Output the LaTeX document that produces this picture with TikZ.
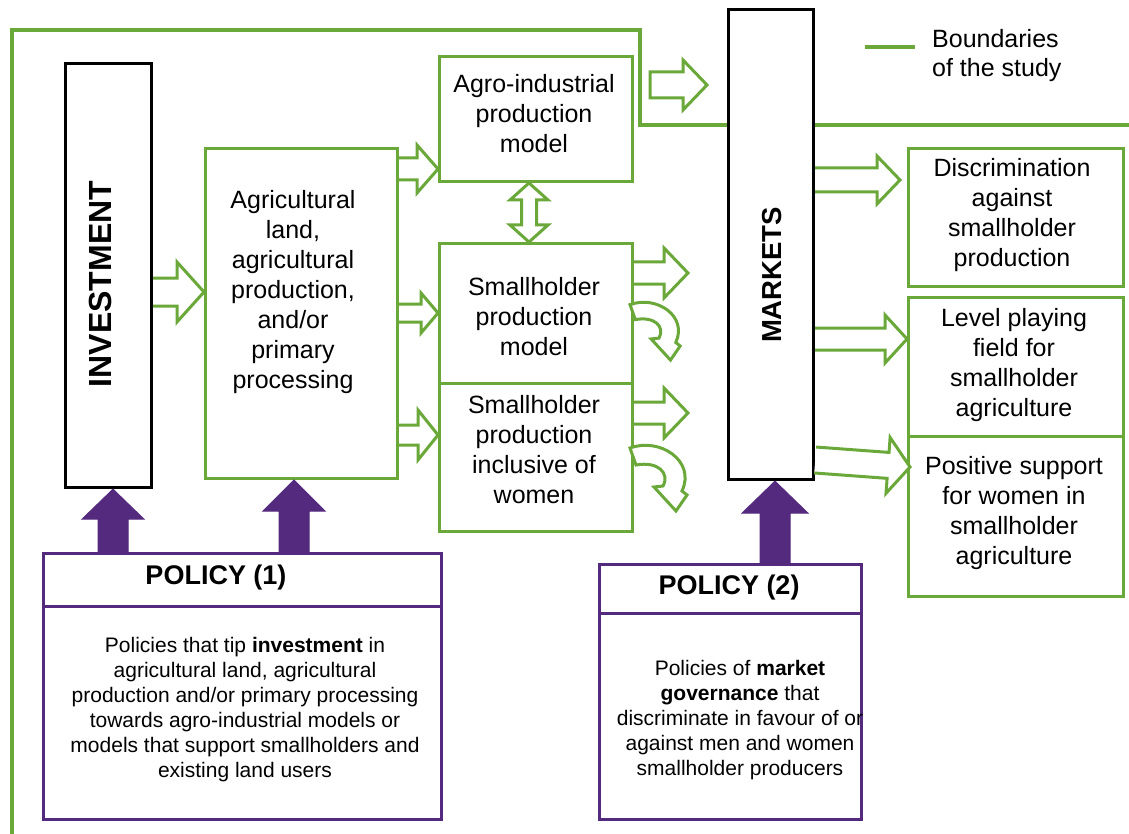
\documentclass[tikz,border=0pt]{standalone}
\usepackage{fontspec}
\setmainfont{Liberation Sans}
\usetikzlibrary{calc}
\definecolor{grn}{RGB}{106,168,58}
\definecolor{prp}{RGB}{84,42,126}
\newcommand\blockarr[7]{%
  \coordinate (hb) at ($#3!#6!#2$);
  \draw[#1] ($#2!#4!90:#3$) -- ($(hb)!#4!90:#3$) -- ($(hb)!#5!90:#3$) -- #3 -- ($(hb)!#5!-90:#3$) -- ($(hb)!#4!-90:#3$) -- ($#2!#4!-90:#3$) #7;
}
\newcommand\dblarr[6]{%
  \coordinate (hbA) at ($#2!#6!#3$);
  \coordinate (hbB) at ($#3!#6!#2$);
  \draw[#1] #2 -- ($(hbA)!#5!90:#3$) -- ($(hbA)!#4!90:#3$) -- ($(hbB)!#4!90:#3$) -- ($(hbB)!#5!90:#3$) -- #3 -- ($(hbB)!#5!-90:#3$) -- ($(hbB)!#4!-90:#3$) -- ($(hbA)!#4!-90:#3$) -- ($(hbA)!#5!-90:#3$) -- cycle;
}
\newcommand\curvarr[2]{%
  \begin{scope}[shift={#1}, scale=#2]
    \draw[garr] (0,3) .. controls (30,-8) and (66,16) .. (52,46) -- (57,50) -- (46,66) -- (24,42) -- (33,41) .. controls (40,28) and (28,16) .. (6,20) -- cycle;
  \end{scope}
}
\begin{document}
\begin{tikzpicture}[x=1pt,y=-1pt,
  gbox/.style={draw=grn, line width=3pt, fill=white, inner sep=0pt, anchor=north west},
  kbox/.style={draw=black, line width=3.2pt, fill=white, inner sep=0pt, anchor=north west},
  pbox/.style={draw=prp, line width=3pt, fill=white, inner sep=0pt, anchor=north west},
  txt/.style={font=\fontsize{25}{30}\selectfont, align=center, inner sep=0pt},
  ptxt/.style={font=\fontsize{21}{25}\selectfont, align=center, inner sep=0pt},
  ttl/.style={font=\fontsize{27}{32}\selectfont\bfseries, inner sep=0pt},
  garr/.style={draw=grn, line width=3pt, fill=white, line join=miter},
  parr/.style={draw=prp, fill=prp, line width=1pt},
  bnd/.style={draw=grn, line width=4pt, line join=miter}]
\useasboundingbox (0,0) rectangle (1129,834);
% boundaries of the study
\draw[bnd] (12,834) -- (12,30) -- (640,30) -- (640,125) -- (1129,125);
\coordinate (lg1) at (865,47);
\coordinate (lg2) at (915,47);
\draw[bnd] (lg1) -- (lg2);
\node[anchor=west, align=left, font=\fontsize{25}{29}\selectfont, inner sep=0pt] (lgt) at (932,56) {Boundaries\\of the study};
% boxes
\node[kbox, minimum width=86pt, minimum height=424pt] (inv) at (64,62) {};
\node[rotate=90, font=\fontsize{32}{36}\selectfont\bfseries, inner sep=0pt] (invt) at (100,284) {INVESTMENT};
\node[gbox, minimum width=192pt, minimum height=330pt] (agr) at (204,147) {};
\node[txt] (agrt) at (293,292) {Agricultural\\land,\\agricultural\\production,\\and/or\\primary\\processing};
\node[gbox, minimum width=193pt, minimum height=125pt] (agro) at (438,55) {};
\node[txt] (agrot) at (534,114) {Agro-industrial\\production\\model};
\node[gbox, minimum width=193pt, minimum height=140pt] (sm) at (438,242) {};
\node[txt] (smt) at (534,317) {Smallholder\\production\\model};
\node[gbox, minimum width=193pt, minimum height=148pt] (wm) at (438,382) {};
\node[txt] (wmt) at (534,450) {Smallholder\\production\\inclusive of\\women};
\node[kbox, minimum width=85pt, minimum height=470pt] (mkt) at (727,8) {};
\node[rotate=90, font=\fontsize{27.5}{32}\selectfont\bfseries, inner sep=0pt] (mktt) at (772,275) {MARKETS};
\node[gbox, minimum width=215pt, minimum height=138pt] (disc) at (907,147) {};
\node[txt] (disct) at (1012,215) {Discrimination\\against\\smallholder\\production};
\node[gbox, minimum width=215pt, minimum height=139pt] (lvl) at (907,296) {};
\node[txt] (lvlt) at (1014,365) {Level playing\\field for\\smallholder\\agriculture};
\node[gbox, minimum width=215pt, minimum height=160pt] (pos) at (907,435) {};
\node[txt] (post) at (1014,513) {Positive support\\for women in\\smallholder\\agriculture};
% policy boxes
\node[pbox, minimum width=398pt, minimum height=53pt] (p1h) at (42,552) {};
\node[pbox, minimum width=398pt, minimum height=213pt] (p1b) at (42,605) {};
\node[ttl] (p1t) at (216,578) {POLICY (1)};
\node[ptxt] (p1x) at (245,710) {Policies that tip \textbf{investment} in\\agricultural land, agricultural\\production and/or primary processing\\towards agro-industrial models or\\models that support smallholders and\\existing land users};
\node[pbox, minimum width=262pt, minimum height=49pt] (p2h) at (598,563) {};
\node[pbox, minimum width=262pt, minimum height=206pt] (p2b) at (598,612) {};
\node[ttl] (p2t) at (729,588) {POLICY (2)};
\node[ptxt] (p2x) at (740,720) {Policies of \textbf{market}\\\textbf{governance} that\\discriminate in favour of or\\against men and women\\smallholder producers};
% green block arrows
\coordinate (a1s) at (inv.east |- 0,292);
\coordinate (a1e) at (agr.west |- 0,292);
\blockarr{garr}{(a1s)}{(a1e)}{14pt}{30pt}{27pt}{}
\coordinate (a2s) at (agr.east |- 0,169);
\coordinate (a2e) at (agro.west |- 0,169);
\blockarr{garr}{(a2s)}{(a2e)}{11pt}{24pt}{21pt}{}
\coordinate (a3s) at (agr.east |- 0,313);
\coordinate (a3e) at (sm.west |- 0,313);
\blockarr{garr}{(a3s)}{(a3e)}{9pt}{20pt}{17pt}{}
\coordinate (a4s) at (agr.east |- 0,435);
\coordinate (a4e) at (wm.west |- 0,435);
\blockarr{garr}{(a4s)}{(a4e)}{10pt}{25pt}{20pt}{}
\coordinate (a5s) at (sm.east |- 0,273);
\coordinate (a5e) at (688,273);
\blockarr{garr}{(a5s)}{(a5e)}{11pt}{25pt}{24pt}{}
\coordinate (a6s) at (wm.east |- 0,413);
\coordinate (a6e) at (688,413);
\blockarr{garr}{(a6s)}{(a6e)}{11pt}{25pt}{24pt}{}
\coordinate (a7s) at (650,85);
\coordinate (a7e) at (707,85);
\blockarr{garr}{(a7s)}{(a7e)}{13pt}{25pt}{24pt}{-- cycle}
\coordinate (a8s) at (mkt.east |- 0,180);
\coordinate (a8e) at (900,180);
\blockarr{garr}{(a8s)}{(a8e)}{12pt}{24pt}{23pt}{}
\coordinate (a9s) at (mkt.east |- 0,339);
\coordinate (a9e) at (lvl.west |- 0,339);
\blockarr{garr}{(a9s)}{(a9e)}{11pt}{24pt}{22pt}{}
\coordinate (a10s) at (mkt.east |- 0,460);
\coordinate (a10e) at (910,467);
\blockarr{garr}{(a10s)}{(a10e)}{13pt}{28pt}{22pt}{}
\coordinate (dAs) at (agro.south -| 529,0);
\coordinate (dAe) at (sm.north -| 529,0);
\dblarr{garr}{(dAs)}{(dAe)}{7.5pt}{19pt}{17pt}
% curved arrows
\curvarr{(630,302)}{0.88}
\curvarr{(630,445)}{1}
% purple arrows
\coordinate (q1s) at (p1h.north -| 113,0);
\coordinate (q1e) at (inv.south -| 113,0);
\blockarr{parr}{(q1s)}{(q1e)}{15pt}{31pt}{30pt}{-- cycle}
\coordinate (q2s) at (p1h.north -| 294,0);
\coordinate (q2e) at (agr.south -| 294,0);
\blockarr{parr}{(q2s)}{(q2e)}{15pt}{31pt}{31pt}{-- cycle}
\coordinate (q3s) at (p2h.north -| 775,0);
\coordinate (q3e) at (mkt.south -| 775,0);
\blockarr{parr}{(q3s)}{(q3e)}{15pt}{33pt}{32pt}{-- cycle}
\end{tikzpicture}
\end{document}
